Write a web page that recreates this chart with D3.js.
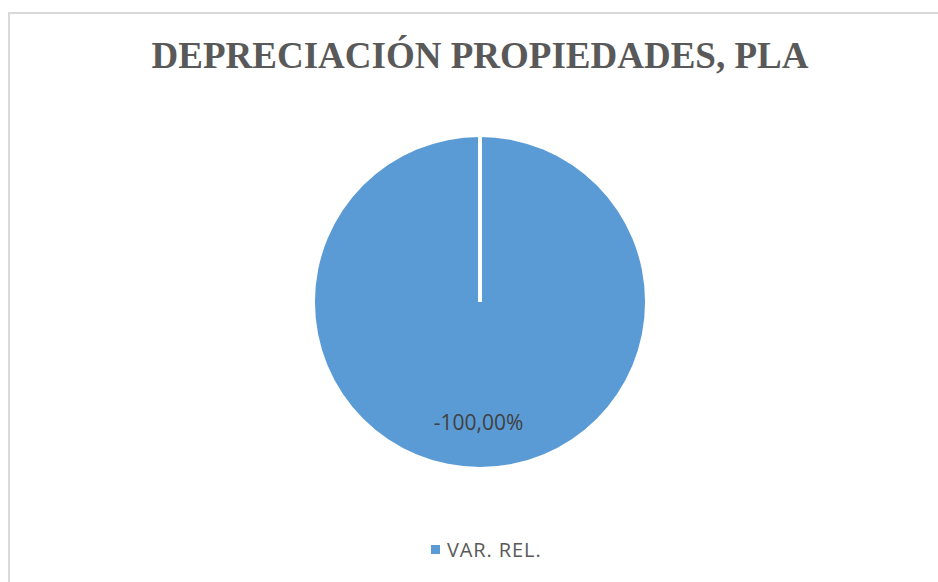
<!DOCTYPE html>
<html><head><meta charset="utf-8">
<script src="https://cdn.jsdelivr.net/npm/d3@7"></script>
<style>html,body{margin:0;padding:0;background:#fff;overflow:hidden}</style>
</head><body>
<svg id="chart" width="938" height="582"></svg>
<script>
const title = "DEPRECIACIÓN PROPIEDADES, PLA";
const categories = ["VAR. REL."];
const values = [-100.00];
const labels = ["-100,00%"];
const colors = ["#5b9bd5"];

const svg = d3.select("#chart");
svg.append("rect").attr("x", 9).attr("y", 13).attr("width", 960).attr("height", 600)
  .attr("fill", "#fff").attr("stroke", "#d9d9d9").attr("stroke-width", 2);

svg.append("text").attr("x", 480).attr("y", 68).attr("text-anchor", "middle")
  .attr("font-family", "Liberation Serif, Times New Roman, serif").attr("font-weight", "bold")
  .attr("font-size", 37).attr("fill", "#595959").text(title);

const cx = 480, cy = 302, r = 165;
const pie = d3.pie().sort(null).value(d => Math.abs(d));
const arcs = pie(values);
const arc = d3.arc().innerRadius(0).outerRadius(r);
const g = svg.append("g").attr("transform", `translate(${cx},${cy})`);
g.selectAll("path").data(arcs).join("path")
  .attr("d", arc).attr("fill", (d, i) => colors[i]);
g.selectAll("line.sep").data(arcs).join("line").attr("class", "sep")
  .attr("x1", 0).attr("y1", 0)
  .attr("x2", d => r * Math.sin(d.startAngle)).attr("y2", d => -r * Math.cos(d.startAngle))
  .attr("stroke", "#fff").attr("stroke-width", 4);

g.selectAll("text.lbl").data(arcs).join("text").attr("class", "lbl")
  .attr("x", -1.5).attr("y", 127.5).attr("text-anchor", "middle")
  .attr("font-family", "Open Sans, Liberation Sans, sans-serif").attr("font-size", 21)
  .attr("fill", "#404040").text((d, i) => labels[i]);

const lg = svg.append("g").attr("transform", "translate(431,545)");
categories.forEach((c, i) => {
  lg.append("rect").attr("x", 0).attr("y", 0).attr("width", 9).attr("height", 9).attr("fill", colors[i]);
  lg.append("text").attr("x", 16).attr("y", 11.5).attr("font-family", "Open Sans, Liberation Sans, sans-serif")
    .attr("font-size", 20).attr("letter-spacing", 0.9).attr("fill", "#595959").text(c);
});
</script>
</body></html>
